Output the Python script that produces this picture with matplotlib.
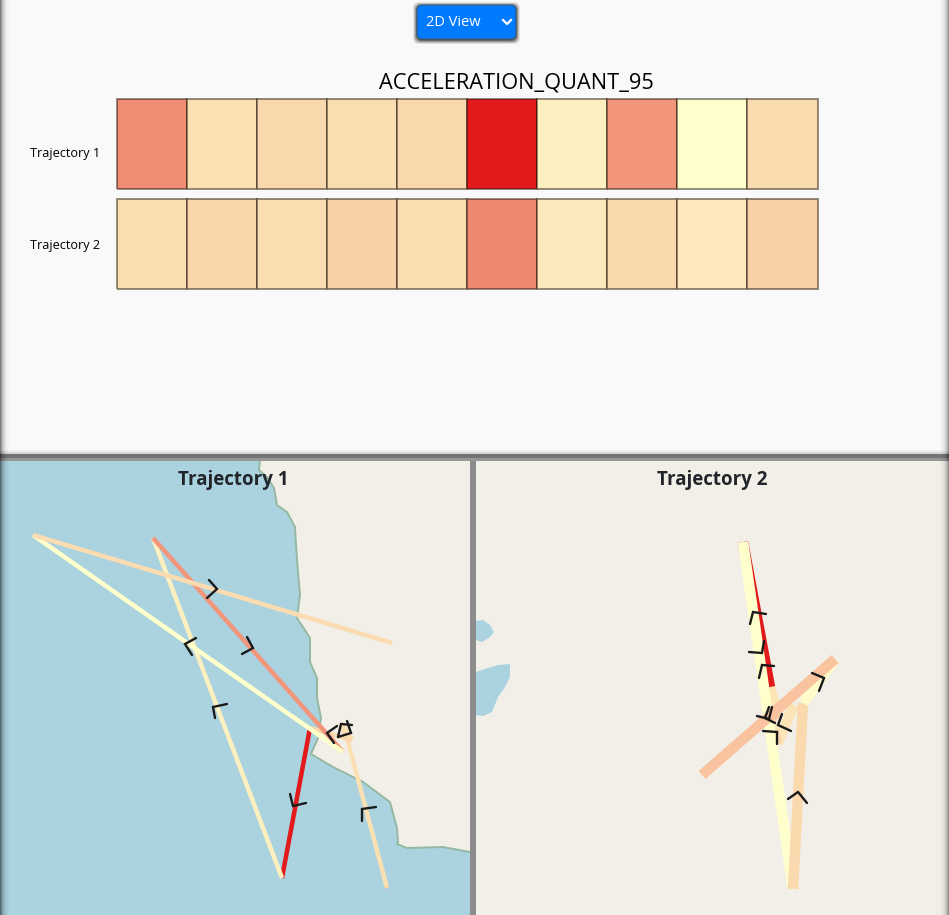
import numpy as np
import matplotlib.pyplot as plt
from matplotlib.colors import LinearSegmentedColormap
from matplotlib.patches import FancyBboxPatch, Polygon, Rectangle

W, H = 949, 915

# Heatmap values, one per trajectory segment
row_names = ["Trajectory 1", "Trajectory 2"]
traj1_values = [0.50, 0.14, 0.17, 0.15, 0.17, 1.0, 0.07, 0.46, 0.0, 0.16]
traj2_values = [0.15, 0.18, 0.15, 0.20, 0.15, 0.52, 0.10, 0.17, 0.105, 0.21]

# Trajectory paths on screen
traj1_x = [386, 387, 347, 341, 352, 310, 282, 153, 343, 33, 392]
traj1_y = [884, 888, 738, 723, 740, 728, 878, 538, 752, 535, 643]
traj2_x = [794, 777, 773, 770, 777, 770, 743, 793, 803, 835, 702]
traj2_y = [705, 744, 730, 720, 712, 687, 542, 889, 703, 659, 775]

# Direction chevrons, wing / tip / wing
traj1_chevrons = [
    [(209, 580), (217, 589), (207, 598)],
    [(247, 637), (253, 648), (242, 654)],
    [(196, 638), (185, 644), (192, 655)],
    [(227, 704), (213, 707), (215, 718)],
    [(337, 726), (327, 733), (334, 743)],
    [(376, 807), (362, 809), (362, 821)],
    [(290, 794), (293, 806), (306, 803)],
    [(338, 737), (351, 733), (347, 721)],
    [(352, 725), (341, 724), (338, 737)],
]
traj2_chevrons = [
    [(766, 614), (753, 612), (750, 624)],
    [(764, 641), (762, 653), (749, 652)],
    [(774, 666), (762, 665), (759, 678)],
    [(812, 673), (824, 678), (819, 691)],
    [(757, 716), (769, 719), (772, 707)],
    [(775, 723), (765, 718), (769, 707)],
    [(782, 714), (778, 725), (791, 731)],
    [(763, 731), (777, 732), (777, 744)],
    [(788, 799), (798, 792), (807, 803)],
]

# Map shapes
coast_x = [260, 259, 267, 274, 277, 287, 295, 296, 298, 300, 297, 310, 310, 317,
           317, 321, 318, 311, 333, 363, 390, 397, 398, 397, 407, 443, 470]
coast_y = [461, 470, 477, 488, 505, 512, 527, 545, 572, 595, 618, 638, 662, 678,
           698, 718, 738, 754, 767, 782, 802, 828, 842, 844, 848, 847, 852]
lake1_x = [476, 483, 490, 494, 490, 482, 476]
lake1_y = [621, 620, 625, 632, 637, 642, 640]
lake2_x = [476, 488, 498, 510, 510, 505, 498, 492, 483, 476]
lake2_y = [672, 668, 665, 664, 677, 687, 697, 712, 716, 715]

water = "#aad3df"
land = "#f2efe9"
cmap = LinearSegmentedColormap.from_list("accel", ["#ffffcc", "#e31a1c"])

plt.rcParams["font.family"] = ["Open Sans", "DejaVu Sans"]
fig = plt.figure(figsize=(W / 100, H / 100), dpi=100, facecolor="#f9f9f9")


def px_axes(x0, y0, x1, y1, z=1):
    # axes whose data units are picture pixels
    ax = fig.add_axes([x0 / W, 1 - y1 / H, (x1 - x0) / W, (y1 - y0) / H], zorder=z)
    ax.set_xlim(x0, x1)
    ax.set_ylim(y1, y0)
    ax.axis("off")
    return ax


# Heatmap rows
for values, top in zip([traj1_values, traj2_values], [99, 199]):
    ax = fig.add_axes([116.5 / W, 1 - (top + 90) / H, 701 / W, 90 / H])
    mesh = ax.pcolormesh(np.array([values]), cmap=cmap, vmin=0, vmax=1,
                         edgecolors=(0.1, 0.05, 0, 0.45), linewidth=1.1)
    mesh.set_clip_on(False)
    ax.axis("off")


def draw_map(ax, xs, ys, values, chevrons, width):
    low, high = min(values), max(values)
    for i, v in enumerate(values):
        ax.plot(xs[i:i + 2], ys[i:i + 2], color=cmap((v - low) / (high - low)),
                lw=width * 0.72, solid_capstyle="butt")
    for chev in chevrons:
        cx, cy = zip(*chev)
        ax.plot(cx, cy, color="#1a1a1a", lw=1.7, solid_capstyle="round",
                solid_joinstyle="miter")


# Left map
map1 = px_axes(0, 461, 470, 915)
map1.add_patch(Rectangle((0, 461), 470, 454, color=water, lw=0))
map1.add_patch(Polygon(list(zip(coast_x, coast_y)) + [(470, 461)], closed=True,
                       facecolor=land, edgecolor="none"))
map1.plot(coast_x, coast_y, color="#94b8a0", lw=1.4)
draw_map(map1, traj1_x, traj1_y, traj1_values, traj1_chevrons, 4.5)

# Right map
map2 = px_axes(476, 461, 949, 915)
map2.add_patch(Rectangle((476, 461), 473, 454, color=land, lw=0))
map2.fill(lake1_x, lake1_y, color=water, lw=0)
map2.fill(lake2_x, lake2_y, color=water, lw=0)
draw_map(map2, traj2_x, traj2_y, traj2_values, traj2_chevrons, 10.5)

# Page furniture on a full size overlay
page = px_axes(0, 0, W, H, z=5)
for i, a in enumerate([0.03, 0.06, 0.1, 0.16]):
    page.add_patch(Rectangle((0, 450 + i), W, 1, color="black", alpha=a, lw=0))
page.add_patch(Rectangle((0, 454), W, 4, color="#757575", lw=0))
page.add_patch(Rectangle((0, 458), W, 3, color="#979797", lw=0))
page.add_patch(Rectangle((470, 461), 6, 454, color="#8c8c8c", lw=0))
shadow = [0.5, 0.36, 0.26, 0.18, 0.12, 0.08, 0.05, 0.03, 0.015]
for i, a in enumerate(shadow):
    page.add_patch(Rectangle((i, 0), 1, H, color="black", alpha=a, lw=0))
    page.add_patch(Rectangle((W - 1 - i, 0), 1, H, color="black", alpha=a * 0.8, lw=0))

# Dropdown button
for grow, a in zip([5, 4, 3, 2, 1], [0.1, 0.2, 0.3, 0.45, 0.6]):
    page.add_patch(FancyBboxPatch((417 - grow + 1, 5 - grow + 2), 99 + 2 * grow - 2, 34 + 2 * grow - 2,
                                  boxstyle="round,pad=0,rounding_size=6",
                                  facecolor="#333333", edgecolor="none", alpha=a))
page.add_patch(FancyBboxPatch((417, 5), 99, 34, boxstyle="round,pad=0,rounding_size=5",
                              facecolor="#007bff", edgecolor="#3c5a7a", lw=0.8))
page.text(426, 22.5, "2D View", color="white", fontsize=10.5, va="center", ha="left")
page.plot([503, 507, 511], [20, 24, 20], color="white", lw=1.6)

page.text(516, 83, "ACCELERATION_QUANT_95", color="black", fontsize=15.7, ha="center", va="center")
page.text(30, 154, row_names[0], color="black", fontsize=9.1, ha="left", va="center")
page.text(30, 245, row_names[1], color="black", fontsize=9.1, ha="left", va="center")
page.text(233, 479.5, row_names[0], color="#212529", fontsize=13.5, fontweight="bold", ha="center", va="center")
page.text(712, 479.5, row_names[1], color="#212529", fontsize=13.5, fontweight="bold", ha="center", va="center")

fig.savefig("out.png", dpi=100, facecolor=fig.get_facecolor())
